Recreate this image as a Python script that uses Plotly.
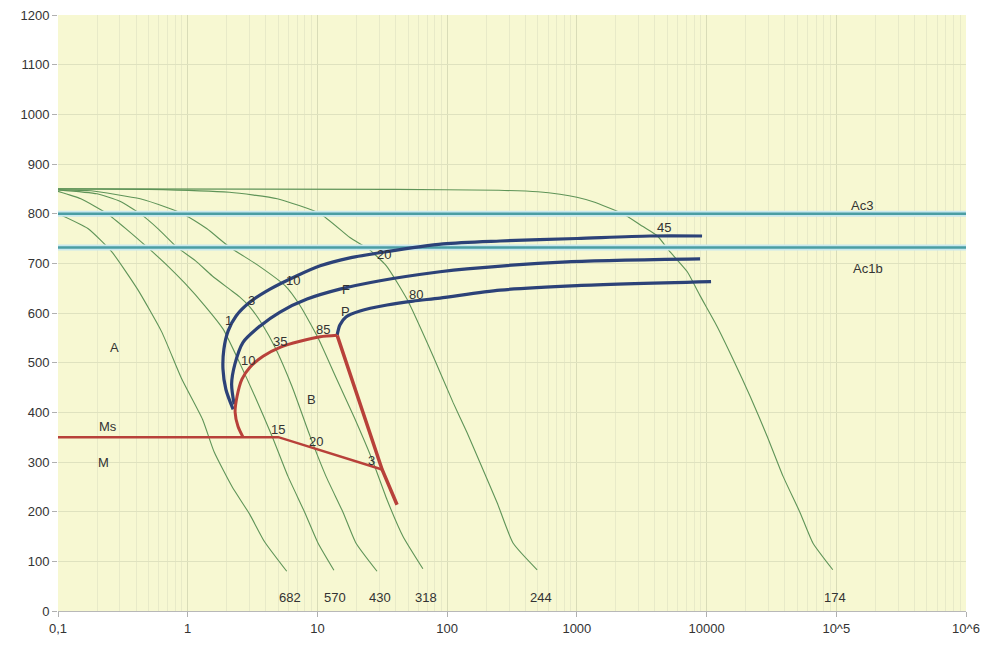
import math
import plotly.graph_objects as go

# ---------------- data ----------------
# cooling curves: time (s) and temperature (°C); label = hardness HV
c1_t = [0.1, 0.17, 0.26, 0.41, 0.63, 0.9, 1.3, 1.6, 2.2, 3.0, 3.9, 5.8]
c1_T = [800, 770, 723, 648, 562, 467, 386, 320, 250, 195, 140, 80]
c2_t = [0.1, 0.15, 0.24, 0.34, 0.49, 0.7, 0.95, 1.35, 1.87, 2.44, 3.3, 4.47, 5.93, 8.0, 10.1, 13.4]
c2_T = [845, 830, 800, 768, 732, 695, 660, 615, 568, 507, 432, 352, 271, 198, 137, 82]
c3_t = [0.1, 0.2, 0.3, 0.43, 0.6, 0.83, 1.15, 1.54, 2.1, 2.5, 3.02, 3.8, 4.71, 6.37, 8.77,
        11.65, 15.8, 19.8, 28.8]
c3_T = [848, 840, 825, 800, 768, 732, 705, 675, 648, 633, 612, 575, 531, 452, 352,
        271, 198, 137, 80]
c4_t = [0.1, 0.18, 0.43, 0.7, 0.92, 1.4, 2.12, 3.4, 5.63, 7.34, 10.1, 13.9, 19.2, 26.4,
        34.4, 45.7, 65]
c4_T = [848, 846, 830, 812, 800, 770, 732, 698, 655, 615, 550, 470, 390, 305,
        224, 150, 85]
c5_t = [0.1, 0.5, 2.1, 4.9, 10.5, 17.8, 25, 34, 49, 78, 111, 142, 179, 243, 322, 494]
c5_T = [850, 849, 843, 830, 800, 752, 728, 695, 628, 513, 420, 360, 299, 218, 137, 83]
c6_t = [0.1, 40, 250, 500, 741, 1000, 1334, 2270, 3236, 4150, 5234, 7100, 8900, 12000,
        16000, 21700, 29300, 38900, 52600, 66000, 94000]
c6_T = [850, 849, 847, 844, 839, 833, 824, 800, 774, 756, 723, 683, 635, 574,
        507, 432, 352, 271, 198, 137, 83]
cooling = [(c1_t, c1_T), (c2_t, c2_T), (c3_t, c3_T), (c4_t, c4_T), (c5_t, c5_T), (c6_t, c6_T)]
hardness = ["682", "570", "430", "318", "244", "174"]
hardness_t = [6.15, 13.7, 30.4, 68.8, 530, 98000]

# ferrite start (outer blue), ferrite (middle blue), pearlite (lower blue)
fs_t = [2.24, 1.97, 1.87, 1.90, 2.05, 2.36, 3.02, 4.31, 6.96, 10.5, 17.8, 33.2, 93, 256, 1004, 3667, 9230]
fs_T = [406, 446, 487, 527, 564, 594, 622, 648, 675, 695, 711, 723, 739, 745, 750, 755, 755]
f_t = [2.28, 2.18, 2.31, 2.67, 3.62, 5.15, 8.32, 14.9, 30.4, 88, 142, 840, 8910]
f_T = [416, 457, 497, 541, 574, 602, 628, 648, 665, 683, 689, 703, 709]
p_t = [14.2, 14.9, 16.6, 21.3, 34.4, 54.6, 88, 256, 1004, 10830]
p_T = [556, 576, 592, 604, 616, 624, 630, 646, 655, 663]

# bainite start (red)
bs_t = [2.67, 2.44, 2.32, 2.40, 2.62, 3.02, 3.81, 5.15, 7.34, 10.5, 14.2]
bs_T = [350, 372, 400, 432, 467, 491, 513, 531, 543, 552, 555]
# bainite / pearlite boundary (red, steep)
bf_t = [14.2, 31.5, 41.1]
bf_T = [555, 285, 214]
# Ms line
ms_t = [0.1, 5.0, 31.5]
ms_T = [350, 350, 285]

ac3 = 800
ac1b = 732
x_range = [0.1, 1e6]

x_tickvals = [0.1, 1, 10, 100, 1000, 10000, 1e5, 1e6]
x_ticktext = ["0,1", "1", "10", "100", "1000", "10000", "10^5", "10^6"]
y_tickvals = list(range(0, 1201, 100))

# text labels: (text, time, temperature)
labels = [
    ("A", 0.275, 531), ("Ms", 0.243, 372), ("M", 0.226, 299), ("B", 8.93, 426),
    ("F", 16.6, 648), ("P", 16.6, 604), ("Ac3", 158000, 816), ("Ac1b", 176000, 689),
    ("1", 2.05, 584), ("3", 3.08, 626), ("10", 6.49, 665), ("20", 32.6, 717),
    ("45", 4700, 772), ("80", 57.5, 638),
    ("10", 2.92, 505), ("35", 5.15, 543), ("85", 11.0, 566),
    ("15", 4.97, 366), ("20", 9.75, 341), ("3", 25.9, 303),
]

# ---------------- figure ----------------
GREEN = "#5f9458"
BLUE = "#2c4278"
RED = "#b8413a"
TEAL = "#4a9ea3"
HALO = "#c9e8ee"
FONT = "Liberation Sans, Arial"

fig = go.Figure()

for t, T in cooling:
    fig.add_trace(go.Scatter(x=t, y=T, mode="lines",
                             line=dict(color=GREEN, width=1.1, shape="spline", smoothing=0.5),
                             hoverinfo="skip"))

for val in (ac3, ac1b):
    fig.add_trace(go.Scatter(x=x_range, y=[val, val], mode="lines",
                             line=dict(color=HALO, width=6), hoverinfo="skip"))
    fig.add_trace(go.Scatter(x=x_range, y=[val, val], mode="lines",
                             line=dict(color=TEAL, width=2.5), hoverinfo="skip"))

for t, T in [(fs_t, fs_T), (f_t, f_T), (p_t, p_T)]:
    fig.add_trace(go.Scatter(x=t, y=T, mode="lines",
                             line=dict(color=BLUE, width=3.2, shape="spline", smoothing=0.8),
                             hoverinfo="skip"))

fig.add_trace(go.Scatter(x=bs_t, y=bs_T, mode="lines",
                         line=dict(color=RED, width=3, shape="spline", smoothing=0.8),
                         hoverinfo="skip"))
fig.add_trace(go.Scatter(x=bf_t, y=bf_T, mode="lines",
                         line=dict(color=RED, width=3.5), hoverinfo="skip"))
fig.add_trace(go.Scatter(x=ms_t, y=ms_T, mode="lines",
                         line=dict(color=RED, width=2.5), hoverinfo="skip"))

annotations = []
for txt, t, T in labels:
    annotations.append(dict(x=math.log10(t), y=T, xref="x", yref="y", text=txt, showarrow=False,
                            font=dict(family=FONT, size=13, color="#333333")))
for txt, t in zip(hardness, hardness_t):
    annotations.append(dict(x=math.log10(t), y=28, xref="x", yref="y", text=txt, showarrow=False,
                            font=dict(family=FONT, size=13, color="#333333")))

minor_vals = [m * 10 ** e for e in range(-1, 6) for m in range(2, 10)]

fig.update_layout(
    width=985, height=650,
    margin=dict(l=58, r=19, t=15, b=39),
    paper_bgcolor="white",
    plot_bgcolor="#f7f8d2",
    showlegend=False,
    annotations=annotations,
    font=dict(family=FONT, size=13, color="#333333"),
)
fig.update_xaxes(
    type="log", range=[-1, 6], automargin=False,
    tickmode="array", tickvals=x_tickvals, ticktext=x_ticktext,
    showgrid=True, gridcolor="#d9dcb8", gridwidth=1,
    minor=dict(tickmode="array", tickvals=minor_vals, showgrid=True,
               gridcolor="#e8eac8", gridwidth=1, ticklen=0),
    ticks="outside", ticklen=5, tickcolor="#b0b0b0",
    showline=True, linecolor="#b8b8b8", linewidth=1,
    zeroline=False,
)
fig.update_yaxes(
    range=[0, 1200], automargin=False,
    tickmode="array", tickvals=y_tickvals,
    showgrid=True, gridcolor="#dfe2bf", gridwidth=1,
    ticks="outside", ticklen=5, tickcolor="#b0b0b0",
    showline=False, zeroline=False,
)

fig.write_html("out.html", config={"displayModeBar": False},
               post_script="document.body.style.margin='0px';")
